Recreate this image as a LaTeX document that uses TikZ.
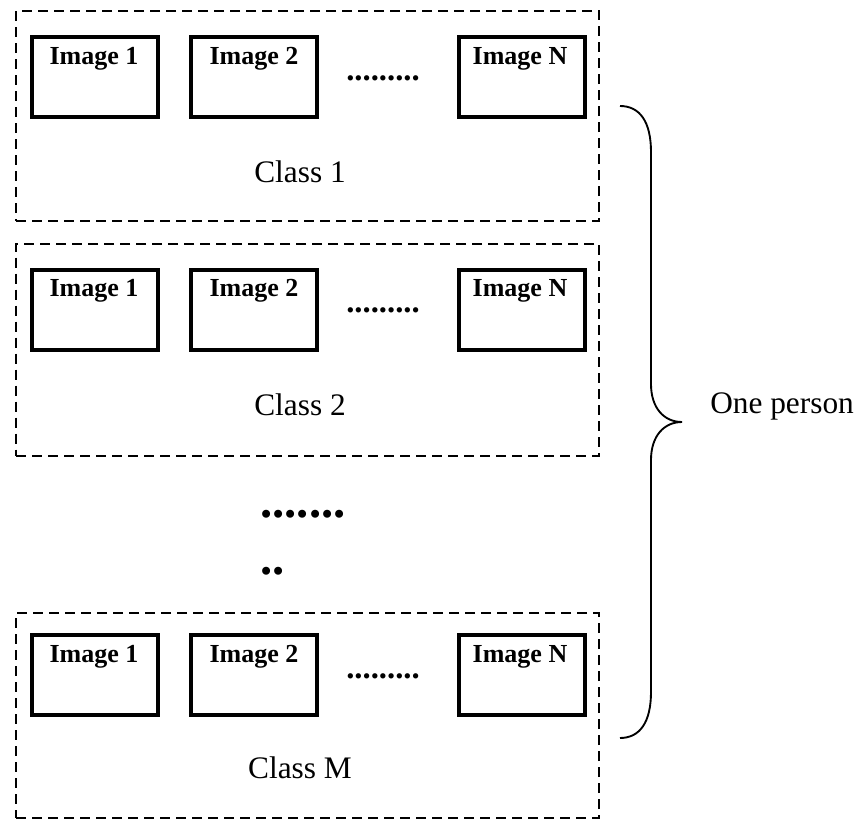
\documentclass[tikz,border=0pt]{standalone}
\usepackage{fontspec}
\setmainfont{Liberation Serif}
\begin{document}
\begin{tikzpicture}[x=0.75pt,y=-0.75pt,
  classbox/.style={draw, line width=1.5pt, dash pattern=on 7.5pt off 4.5pt,
    minimum width=437.25pt, inner sep=0},
  imgbox/.style={draw, line width=3pt, minimum width=94.5pt, minimum height=60pt, inner sep=0},
  imglabel/.style={font=\fontsize{19.5}{23}\selectfont\bfseries, inner sep=0, anchor=base},
  classlabel/.style={font=\fontsize{23.5}{28}\selectfont, inner sep=0, anchor=base},
  rowdots/.style={font=\fontsize{24.5}{28}\selectfont\bfseries, inner sep=0},
  bigdots/.style={font=\fontsize{36.6}{40}\selectfont\bfseries, inner sep=0, anchor=base west},
  bracepath/.style={line width=1.4pt}]

\useasboundingbox (0,0) rectangle (861,821);

% one dashed group per class: box centre y / box height / image row y / caption baseline / caption
\foreach \r/\by/\bh/\iy/\cy/\cap in {1/116/157.5pt/77/182/Class 1,
                                     2/349.5/159pt/309.5/415/Class 2,
                                     M/715.5/153.75pt/675/778/Class M}{
  \node[classbox, minimum height=\bh] (class\r) at (307.5,\by) {};
  \node[imgbox] (c\r-i1) at (94.5,\iy) {};
  \node[imgbox] (c\r-i2) at (254,\iy) {};
  \node[imgbox] (c\r-iN) at (521.5,\iy) {};
  \node[imglabel] (c\r-l1) at (94,\iy-13) {Image 1};
  \node[imglabel] (c\r-l2) at (254,\iy-13) {Image 2};
  \node[imglabel] (c\r-lN) at (520,\iy-13) {Image N};
  \node[rowdots] (c\r-dots) at (383,\iy+1) {.........};
  \node[classlabel] (c\r-cap) at (300,\cy) {\cap};
}

% vertical ellipsis between the groups
\node[bigdots] (gap1) at (260,517) {.......};
\node[bigdots] (gap2) at (260,574) {..};

% curly brace grouping all classes
\coordinate (btop) at (620,106);
\coordinate (btip) at (682,422);
\coordinate (bbot) at (620,738);
\draw[bracepath] (btop) .. controls (640,106) and (651,122) .. (651,152)
  -- (651,384) .. controls (651,408) and (664,422) .. (btip)
  .. controls (664,422) and (651,436) .. (651,460)
  -- (651,692) .. controls (651,722) and (640,738) .. (bbot);

\node[classlabel, anchor=base west] (person) at (710,413) {One person};
\end{tikzpicture}
\end{document}
